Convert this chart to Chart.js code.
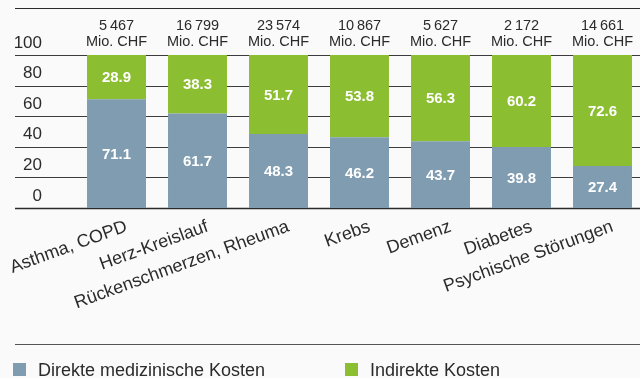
<!DOCTYPE html>
<html>
<head>
<meta charset="utf-8">
<script src="https://cdn.jsdelivr.net/npm/chart.js@4.4.1/dist/chart.umd.min.js"></script>
<style>
  html, body { margin: 0; padding: 0; background: #fafafa; overflow: hidden; }
  #wrap { width: 643px; height: 378px; position: relative; }
</style>
</head>
<body>
<div id="wrap"><canvas id="c"></canvas></div>
<script>
// Krankheitsgruppen und Anteile der Kosten (in %)
const categories = ['Asthma, COPD', 'Herz-Kreislauf', 'Rückenschmerzen, Rheuma', 'Krebs', 'Demenz', 'Diabetes', 'Psychische Störungen'];
const direkteKosten = [71.1, 61.7, 48.3, 46.2, 43.7, 39.8, 27.4];
const indirekteKosten = [28.9, 38.3, 51.7, 53.8, 56.3, 60.2, 72.6];
const totalMioCHF = [5467, 16799, 23574, 10867, 5627, 2172, 14661];
const totalUnit = 'Mio. CHF';
const yTicks = [0, 20, 40, 60, 80, 100];
const seriesNames = ['Direkte medizinische Kosten', 'Indirekte Kosten'];
const seriesColors = ['#7f9cb0', '#8cbe31'];

const FONT = '"Liberation Sans", Arial, Helvetica, sans-serif';

function fmtThousands(n) {
  return String(n).replace(/\B(?=(\d{3})+(?!\d))/g, '\u2009');
}

function hline(ctx, x1, x2, y, color, w) {
  ctx.beginPath();
  ctx.strokeStyle = color;
  ctx.lineWidth = w;
  ctx.moveTo(x1, y);
  ctx.lineTo(x2, y);
  ctx.stroke();
}

const decor = {
  id: 'decor',
  beforeDatasetsDraw(chart) {
    const { ctx, scales: { y } } = chart;
    ctx.save();
    // horizontal rules spanning the full width
    hline(ctx, 15, chart.width, 8.5, '#2b2b2b', 1);
    yTicks.forEach(v => {
      const py = Math.round(y.getPixelForValue(v)) + 0.5;
      if (v === 0) hline(ctx, 15, chart.width, py, '#2b2b2b', 1.4);
      else hline(ctx, 15, chart.width, py, '#3c3c3c', 1);
    });
    hline(ctx, 15, chart.width, 344.5, '#555555', 1.2);
    ctx.restore();
  },
  afterDatasetsDraw(chart) {
    const { ctx, scales: { x } } = chart;
    ctx.save();
    // value labels inside the segments
    ctx.fillStyle = '#ffffff';
    ctx.font = 'bold 15px ' + FONT;
    ctx.textAlign = 'center';
    ctx.textBaseline = 'middle';
    chart.data.datasets.forEach((ds, di) => {
      const meta = chart.getDatasetMeta(di);
      meta.data.forEach((bar, i) => {
        const props = bar.getProps(['x', 'y', 'base'], true);
        const cy = (props.y + props.base) / 2 + 1;
        ctx.fillText(ds.data[i].toFixed(1), props.x, cy);
      });
    });
    // totals above each bar
    ctx.fillStyle = '#2b2b2b';
    ctx.font = '14.5px ' + FONT;
    categories.forEach((c, i) => {
      const px = x.getPixelForValue(i);
      ctx.fillText(fmtThousands(totalMioCHF[i]), px, 26);
      ctx.fillText(totalUnit, px, 42);
    });
    // legend
    ctx.textAlign = 'left';
    ctx.textBaseline = 'alphabetic';
    ctx.font = '18px ' + FONT;
    const legendX = [13, 345];
    seriesNames.forEach((name, i) => {
      ctx.fillStyle = seriesColors[i];
      ctx.fillRect(legendX[i], 363, 13, 13);
      ctx.fillStyle = '#2b2b2b';
      ctx.fillText(name, legendX[i] + 25, 375.5);
    });
    ctx.restore();
  }
};

new Chart(document.getElementById('c'), {
  type: 'bar',
  data: {
    labels: categories,
    datasets: [
      { label: seriesNames[0], data: direkteKosten, backgroundColor: seriesColors[0], borderWidth: 0 },
      { label: seriesNames[1], data: indirekteKosten, backgroundColor: seriesColors[1], borderWidth: 0 }
    ]
  },
  options: {
    responsive: true,
    maintainAspectRatio: false,
    animation: false,
    events: [],
    layout: { padding: { top: 55, left: 0, right: 0, bottom: 0 } },
    plugins: { legend: { display: false }, tooltip: { enabled: false } },
    scales: {
      x: {
        stacked: true,
        grid: { display: false, drawTicks: false },
        border: { display: false },
        ticks: {
          color: '#2b2b2b',
          font: { family: FONT, size: 18 },
          minRotation: 20,
          maxRotation: 20,
          autoSkip: false,
          padding: 8,
          labelOffset: 10
        },
        afterFit(scale) {
          scale.height = 170;
          scale.paddingLeft = 0;
          scale.paddingRight = 0;
        }
      },
      y: {
        stacked: true,
        min: 0,
        max: 100,
        grid: { display: false, drawTicks: false },
        border: { display: false },
        ticks: {
          stepSize: 20,
          color: '#2b2b2b',
          font: { family: FONT, size: 17 },
          padding: 34,
          labelOffset: -12
        },
        afterFit(scale) {
          scale.width = 76;
          scale.paddingTop = 0;
          scale.paddingBottom = 0;
        }
      }
    },
    datasets: {
      bar: { categoryPercentage: 1, barPercentage: 0.728 }
    }
  },
  plugins: [decor]
});
</script>
</body>
</html>
